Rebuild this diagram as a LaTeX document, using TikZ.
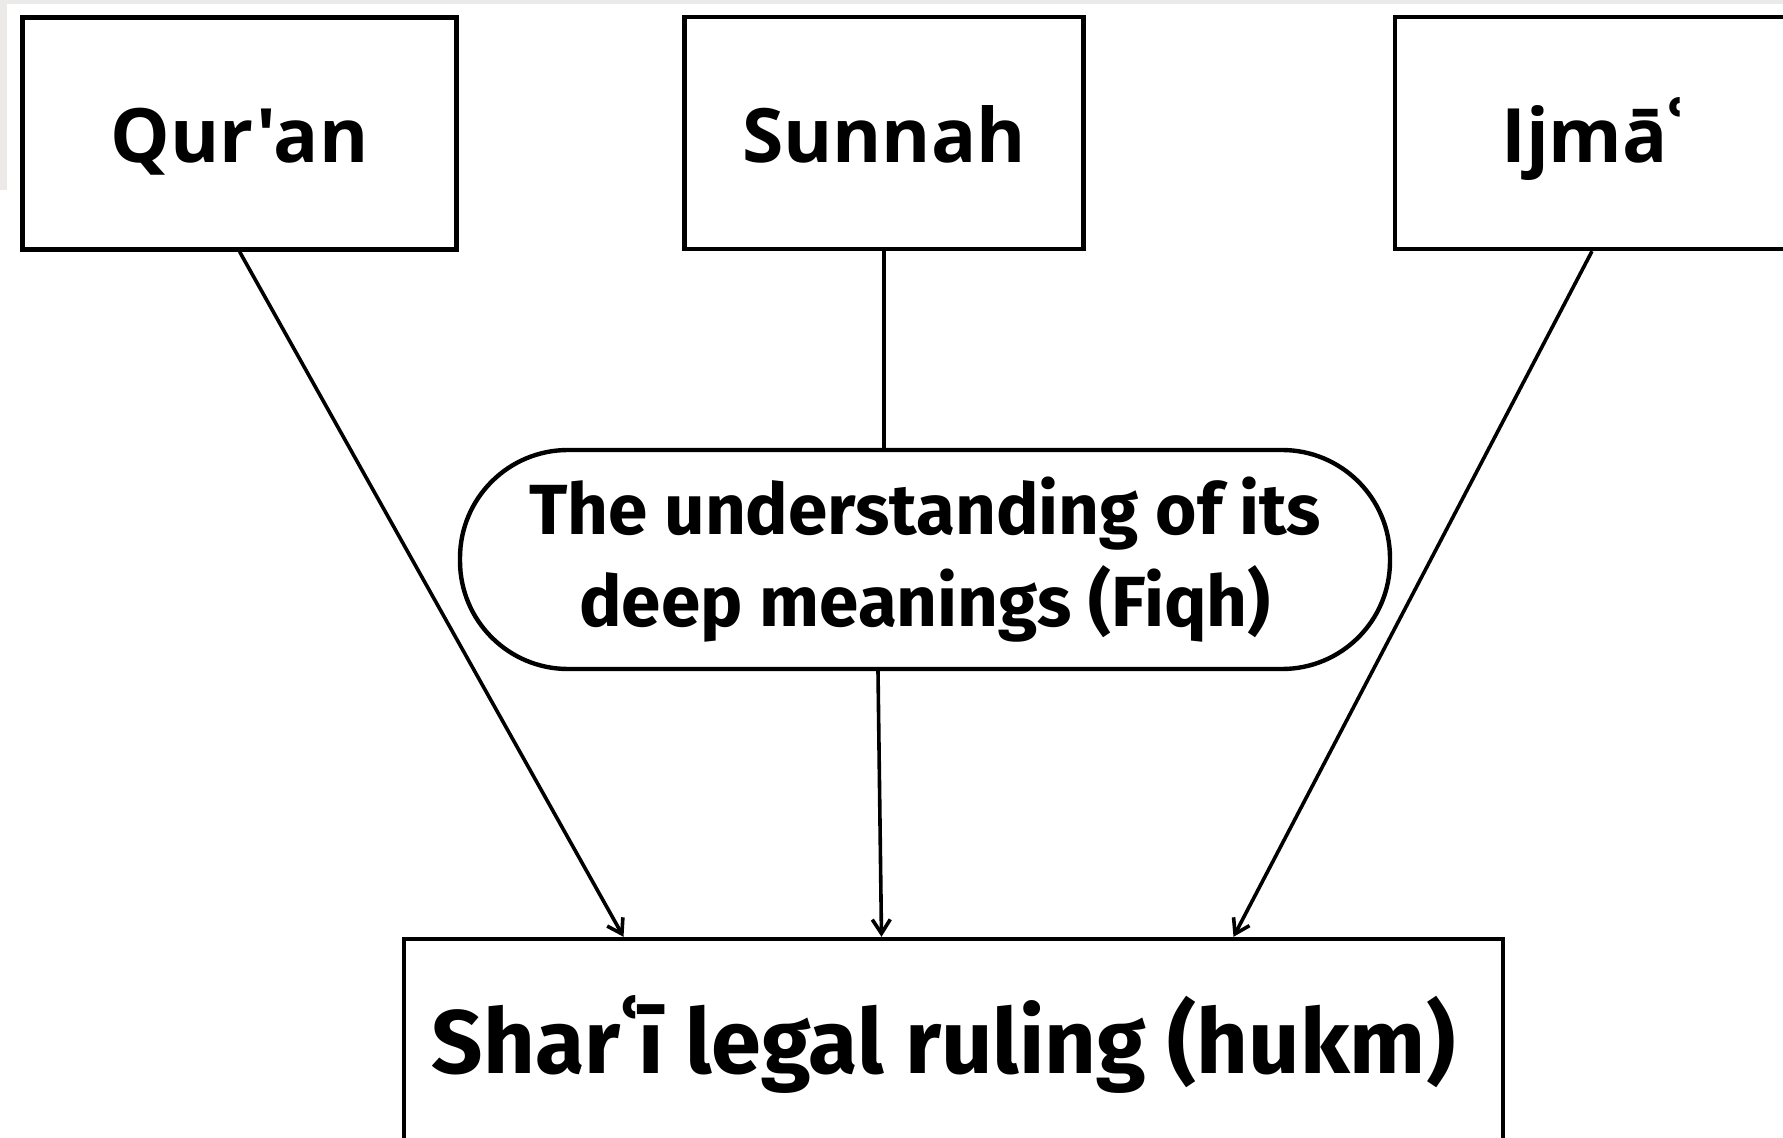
\documentclass[tikz,border=0pt]{standalone}
\usepackage{fontspec}
\newfontfamily\headfont{Open Sans}
\newfontfamily\condfont{Fira Sans}
\usetikzlibrary{arrows.meta}
\definecolor{edgegray}{RGB}{236,234,232}
\tikzset{%
  >={Straight Barb[length=7pt,width=9pt]},
  src/.style={draw,rectangle,line width=2.2pt,minimum width=217pt,
    minimum height=116pt,text height=30pt,text depth=0.5pt,
    font=\headfont\bfseries\fontsize{37.5}{45}\selectfont},
  fiqhbox/.style={draw,rectangle,rounded corners=54pt,line width=2.2pt,
    minimum width=465pt,minimum height=109.5pt,align=center,
    font=\condfont\bfseries\fontsize{35.5}{46}\selectfont},
  result/.style={draw,rectangle,line width=2.2pt,minimum width=549.5pt,
    minimum height=105pt,font=\condfont\bfseries\fontsize{45}{54}\selectfont},
  line/.style={draw,line width=1.8pt,->}
}
\begin{document}
\begin{tikzpicture}[x=0.5pt,y=-0.5pt]
  \clip (0,0) rectangle (1783,1138);
  \fill[white] (0,0) rectangle (1783,1138);
  \fill[edgegray] (0,0) rectangle (1783,4);
  \fill[edgegray] (0,0) rectangle (7,190);
  % sources
  \node[src] (quran) at (239.6,133.5) {Qur'an};
  \node[src,minimum width=199.5pt] (sunnah) at (884,133) {Sunnah};
  \node[src,minimum width=197pt] (ijma) at (1592,133) {Ijmā{\condfont ʿ}};
  % fiqh and ruling
  \node[fiqhbox] (fiqh) at (925,559.5) {The understanding of its\\deep meanings (Fiqh)};
  \node[result] (ruling) at (953.5,1044) {\hspace*{-10pt}Sharʿī legal ruling (hukm)};
  % connectors
  \draw[line] (quran.south) -- ([xshift=-165pt]ruling.north);
  \draw[line width=1.8pt] (sunnah.south) -- (sunnah.south |- fiqh.north);
  \draw[line] ([xshift=-23.5pt]fiqh.south) -- ([xshift=-36pt]ruling.north);
  \draw[line] (ijma.south) -- ([xshift=140pt]ruling.north);
\end{tikzpicture}
\end{document}
